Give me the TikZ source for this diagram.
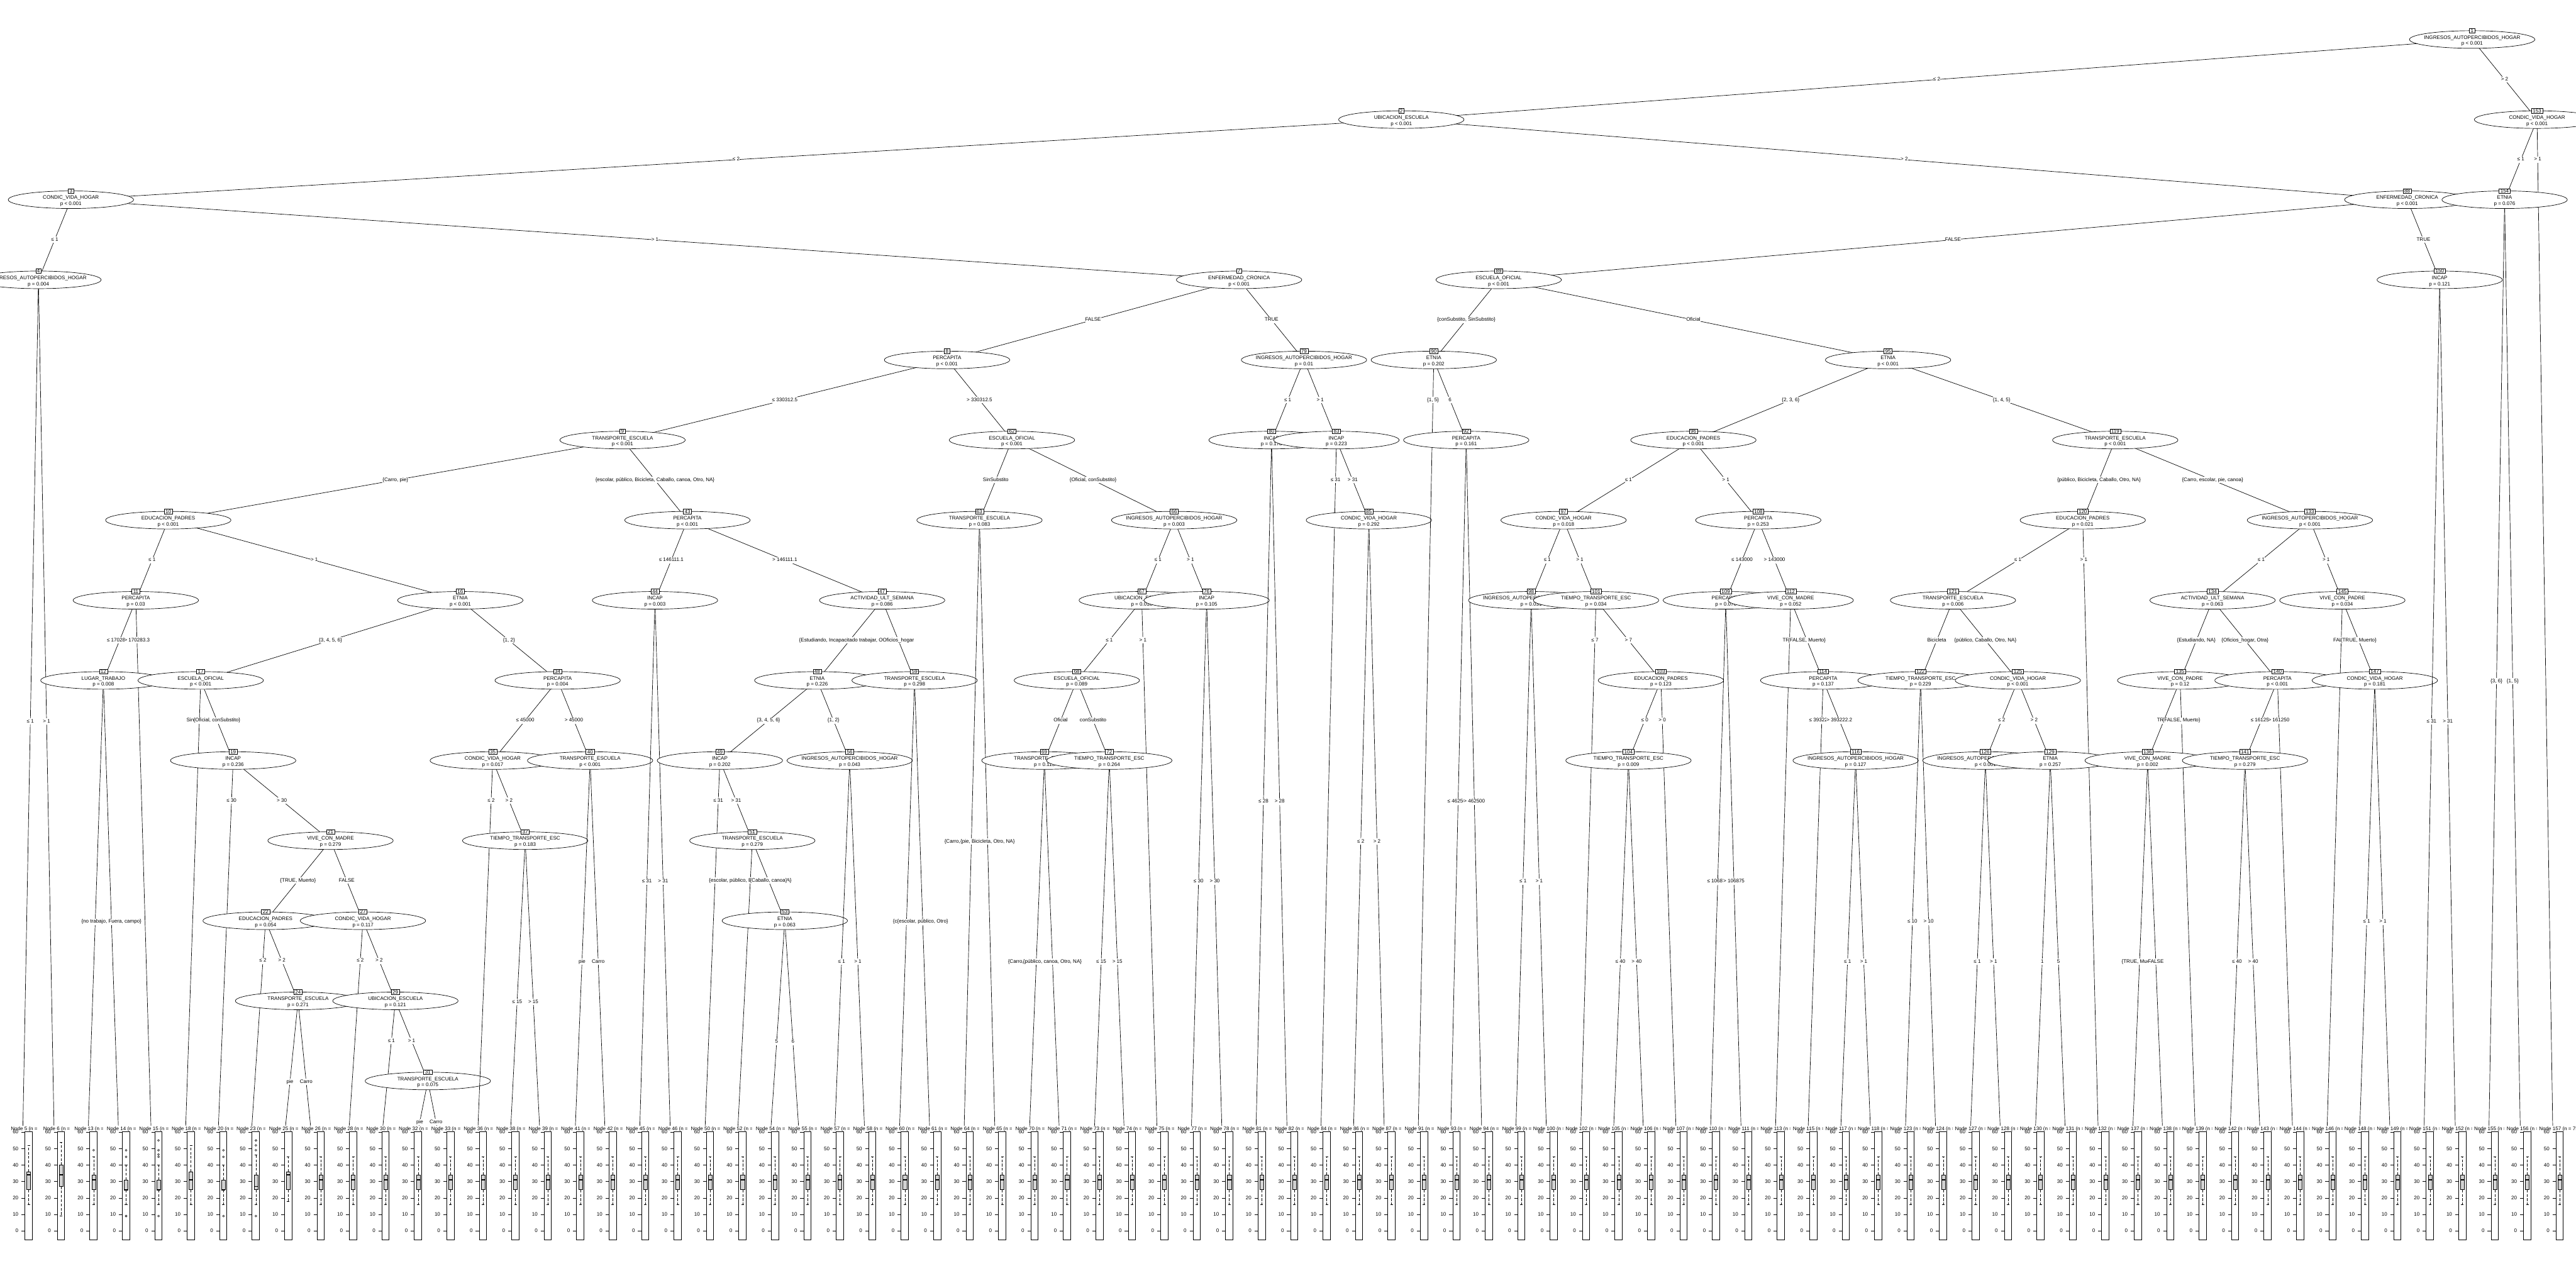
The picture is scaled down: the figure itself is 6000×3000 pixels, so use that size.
\documentclass[tikz,border=0pt]{standalone}
\usepackage{fontspec}
\setmainfont{Liberation Sans}
\usetikzlibrary{shapes.geometric,calc}
\newcommand\nf{\fontsize{11.8}{14}\selectfont}
\begin{document}
\begin{tikzpicture}[x=1pt,y=-1pt,
  every node/.style={font=\nf},
  declare function={Yv(\v)=2888-3.833*(\v+5.5);},
  eline/.style={line width=1pt},
  inn/.style={ellipse, draw, fill=white, line width=1pt, minimum width=292pt, minimum height=41pt, inner sep=0pt},
  idb/.style={draw, fill=white, line width=0.9pt, inner xsep=3pt, inner ysep=1.2pt, text height=8.5pt, text depth=0pt},
  elab/.style={fill=white, inner xsep=0pt, inner ysep=1.3pt, text height=9pt, text depth=3pt},
  txt/.style={inner sep=0pt, anchor=base},
  tk/.style={line width=0.9pt},
  wh/.style={line width=0.9pt, dash pattern=on 6pt off 4pt},
  wcap/.style={line width=0.9pt},
  bx/.style={draw, fill={rgb,255:red,211;green,211;blue,211}, line width=0.9pt},
  mdn/.style={line width=2.4pt},
  outl/.style={line width=0.8pt},
  pframe/.style={line width=1pt}]
\fill[white] (0,0) rectangle (6000,3000);
\useasboundingbox (0,0) rectangle (6000,3000);
% ---------- coordinates ----------
\newcommand\CI[3]{\coordinate (c#1) at ({14+75.58*#2},{92+186.6*#3});}
\newcommand\CT[2]{\coordinate (c#1) at ({14+75.58*(#2-0.5)},2709);}
\CI{1}{76}{0}\CI{2}{43}{1}\CI{3}{2}{2}\CI{4}{1}{3}\CI{7}{38}{3}\CI{8}{29}{4}
\CI{9}{19}{5}\CI{10}{5}{6}\CI{11}{4}{7}\CI{12}{3}{8}\CI{16}{14}{7}\CI{17}{6}{8}
\CI{19}{7}{9}\CI{21}{10}{10}\CI{22}{8}{11}\CI{24}{9}{12}\CI{27}{11}{11}\CI{29}{12}{12}
\CI{31}{13}{13}\CI{34}{17}{8}\CI{35}{15}{9}\CI{37}{16}{10}\CI{40}{18}{9}\CI{43}{21}{6}
\CI{44}{20}{7}\CI{47}{27}{7}\CI{48}{25}{8}\CI{49}{22}{9}\CI{51}{23}{10}\CI{53}{24}{11}
\CI{56}{26}{9}\CI{59}{28}{8}\CI{62}{31}{5}\CI{63}{30}{6}\CI{66}{36}{6}\CI{67}{35}{7}
\CI{68}{33}{8}\CI{69}{32}{9}\CI{72}{34}{9}\CI{76}{37}{7}\CI{79}{40}{4}\CI{80}{39}{5}
\CI{83}{41}{5}\CI{85}{42}{6}\CI{88}{74}{2}\CI{89}{46}{3}\CI{90}{44}{4}\CI{92}{45}{5}
\CI{95}{58}{4}\CI{96}{52}{5}\CI{97}{48}{6}\CI{98}{47}{7}\CI{101}{49}{7}\CI{103}{51}{8}
\CI{104}{50}{9}\CI{108}{54}{6}\CI{109}{53}{7}\CI{112}{55}{7}\CI{114}{56}{8}\CI{116}{57}{9}
\CI{119}{65}{5}\CI{120}{64}{6}\CI{121}{60}{7}\CI{122}{59}{8}\CI{125}{62}{8}\CI{126}{61}{9}
\CI{129}{63}{9}\CI{133}{71}{6}\CI{134}{68}{7}\CI{135}{67}{8}\CI{136}{66}{9}\CI{140}{70}{8}
\CI{141}{69}{9}\CI{145}{72}{7}\CI{147}{73}{8}\CI{150}{75}{3}\CI{153}{78}{1}\CI{154}{77}{2}
\CT{5}{1}\CT{6}{2}\CT{13}{3}\CT{14}{4}\CT{15}{5}\CT{18}{6}\CT{20}{7}\CT{23}{8}\CT{25}{9}
\CT{26}{10}\CT{28}{11}\CT{30}{12}\CT{32}{13}\CT{33}{14}\CT{36}{15}\CT{38}{16}\CT{39}{17}
\CT{41}{18}\CT{42}{19}\CT{45}{20}\CT{46}{21}\CT{50}{22}\CT{52}{23}\CT{54}{24}\CT{55}{25}
\CT{57}{26}\CT{58}{27}\CT{60}{28}\CT{61}{29}\CT{64}{30}\CT{65}{31}\CT{70}{32}\CT{71}{33}
\CT{73}{34}\CT{74}{35}\CT{75}{36}\CT{77}{37}\CT{78}{38}\CT{81}{39}\CT{82}{40}\CT{84}{41}
\CT{86}{42}\CT{87}{43}\CT{91}{44}\CT{93}{45}\CT{94}{46}\CT{99}{47}\CT{100}{48}\CT{102}{49}
\CT{105}{50}\CT{106}{51}\CT{107}{52}\CT{110}{53}\CT{111}{54}\CT{113}{55}\CT{115}{56}
\CT{117}{57}\CT{118}{58}\CT{123}{59}\CT{124}{60}\CT{127}{61}\CT{128}{62}\CT{130}{63}
\CT{131}{64}\CT{132}{65}\CT{137}{66}\CT{138}{67}\CT{139}{68}\CT{142}{69}\CT{143}{70}
\CT{144}{71}\CT{146}{72}\CT{148}{73}\CT{149}{74}\CT{151}{75}\CT{152}{76}\CT{155}{77}
\CT{156}{78}\CT{157}{79}
% ---------- inner node ----------
\newcommand\NODE[9]{%
  \draw[eline] (c#1) -- (c#4);
  \draw[eline] (c#1) -- (c#5);
  \node[inn] (n#1) at (c#1) {};
  \node[txt] (v#1) at ([yshift=1pt]c#1) {#2};
  \node[txt] (p#1) at ([yshift=-13.3pt]c#1) {#3};
  \node[idb] (i#1) at ([yshift=20.5pt]c#1) {#1};
  \path (c#1) -- (c#4) node[elab, pos=#6] (la#1) {#8};
  \path (c#1) -- (c#5) node[elab, pos=#7] (lb#1) {#9};
}
% ---------- terminal panel ----------
\newcommand\TP[9]{%
  \pgfmathsetmacro\PX{14+75.58*(#2-1)}%
  \fill[white] (\PX,2622) rectangle ({\PX+75.58},2888);
  \node[inner sep=0pt] (t#1) at ({\PX+52.5},2629.5) {Node #1 (n = #3)};
  \foreach \v in {0,10,...,60}{%
    \draw[tk] ({\PX+36},{Yv(\v)}) -- ({\PX+44},{Yv(\v)});
    \node[anchor=east,inner sep=0pt] at ({\PX+29},{Yv(\v)}) {\v};}
  \draw[wh] ({\PX+52.95},{Yv(#6)}) -- ({\PX+52.95},{Yv(#8)});
  \draw[wh] ({\PX+52.95},{Yv(#4)}) -- ({\PX+52.95},{Yv(#7)});
  \draw[wcap] ({\PX+50},{Yv(#8)}) -- ({\PX+55.9},{Yv(#8)});
  \draw[wcap] ({\PX+50},{Yv(#7)}) -- ({\PX+55.9},{Yv(#7)});
  \draw[bx] ({\PX+48.5},{Yv(#6)}) rectangle ({\PX+57.4},{Yv(#4)});
  \draw[mdn] ({\PX+48.5},{Yv(#5)}) -- ({\PX+57.4},{Yv(#5)});
  \if\relax\detokenize{#9}\relax\else
    \foreach \o in {#9}{\draw[outl] ({\PX+52.95},{Yv(\o)}) circle[radius=2.2pt];}%
  \fi
  \draw[pframe] ({\PX+44},2635) rectangle ({\PX+61},2888);
}
\newcommand\DT[3]{\TP{#1}{#2}{#3}{25}{31}{34}{16}{45}{}}
% ---------- drawing in plot order ----------
\NODE{1}{INGRESOS\_AUTOPERCIBIDOS\_HOGAR}{p < 0.001}{2}{153}{0.5}{0.5}{≤ 2}{> 2}
\NODE{2}{UBICACION\_ESCUELA}{p < 0.001}{3}{88}{0.5}{0.5}{≤ 2}{> 2}
\NODE{3}{CONDIC\_VIDA\_HOGAR}{p < 0.001}{4}{7}{0.5}{0.5}{≤ 1}{> 1}
\NODE{4}{INGRESOS\_AUTOPERCIBIDOS\_HOGAR}{p = 0.004}{5}{6}{0.5}{0.5}{≤ 1}{> 1}
\TP{5}{1}{24}{25}{34}{36}{16}{52}{}
\TP{6}{2}{91}{27}{34}{40}{9}{54}{}
\NODE{7}{ENFERMEDAD\_CRONICA}{p < 0.001}{8}{79}{0.5}{0.5}{FALSE}{TRUE}
\NODE{8}{PERCAPITA}{p < 0.001}{9}{62}{0.5}{0.5}{≤ 330312.5}{> 330312.5}
\NODE{9}{TRANSPORTE\_ESCUELA}{p < 0.001}{10}{43}{0.5}{0.5}{\{Carro, pie\}}{\{escolar, público, Bicicleta, Caballo, canoa, Otro, NA\}}
\NODE{10}{EDUCACION\_PADRES}{p < 0.001}{11}{16}{0.5}{0.5}{≤ 1}{> 1}
\NODE{11}{PERCAPITA}{p = 0.03}{12}{15}{0.5}{0.0712}{≤ 170283.3}{> 170283.3}
\NODE{12}{LUGAR\_TRABAJO}{p = 0.008}{13}{14}{0.5}{0.5}{casa}{\{no trabajo, Fuera, campo\}}
\TP{13}{3}{52}{25}{31}{34}{16}{45}{49}
\TP{14}{4}{64}{25}{25}{31}{16}{40}{49,45,9}
\TP{15}{5}{88}{25}{25}{31}{16}{40}{55,49,46.4,45,9}
\NODE{16}{ETNIA}{p < 0.001}{17}{34}{0.5}{0.5}{\{3, 4, 5, 6\}}{\{1, 2\}}
\NODE{17}{ESCUELA\_OFICIAL}{p < 0.001}{18}{19}{0.0830}{0.5}{SinSubstito}{\{Oficial, conSubstito\}}
\TP{18}{6}{45}{25}{31}{36}{16}{52}{}
\NODE{19}{INCAP}{p = 0.236}{20}{21}{0.0995}{0.5}{≤ 30}{> 30}
\TP{20}{7}{77}{25}{25}{31}{16}{40}{49,45,9}
\NODE{21}{VIVE\_CON\_MADRE}{p = 0.279}{22}{27}{0.5}{0.5}{\{TRUE, Muerto\}}{FALSE}
\NODE{22}{EDUCACION\_PADRES}{p = 0.054}{23}{24}{0.1653}{0.5}{≤ 2}{> 2}
\TP{23}{8}{36}{25}{27}{34}{16}{46}{55,52,49,9}
\NODE{24}{TRANSPORTE\_ESCUELA}{p = 0.271}{25}{26}{0.5}{0.5}{pie}{Carro}
\TP{25}{9}{21}{25}{34}{36}{18}{45}{}
\DT{26}{10}{30}
\NODE{27}{CONDIC\_VIDA\_HOGAR}{p = 0.117}{28}{29}{0.1653}{0.5}{≤ 2}{> 2}
\DT{28}{11}{40}
\NODE{29}{UBICACION\_ESCUELA}{p = 0.121}{30}{31}{0.2470}{0.5}{≤ 1}{> 1}
\DT{30}{12}{33}
\NODE{31}{TRANSPORTE\_ESCUELA}{p = 0.075}{32}{33}{0.5}{0.5}{pie}{Carro}
\DT{32}{13}{25}\DT{33}{14}{20}
\NODE{34}{PERCAPITA}{p = 0.004}{35}{40}{0.5}{0.5}{≤ 45000}{> 45000}
\NODE{35}{CONDIC\_VIDA\_HOGAR}{p = 0.017}{36}{37}{0.0995}{0.5}{≤ 2}{> 2}
\DT{36}{15}{30}
\NODE{37}{TIEMPO\_TRANSPORTE\_ESC}{p = 0.183}{38}{39}{0.5}{0.5}{≤ 15}{> 15}
\DT{38}{16}{30}\DT{39}{17}{30}
\NODE{40}{TRANSPORTE\_ESCUELA}{p < 0.001}{41}{42}{0.5}{0.5}{pie}{Carro}
\DT{41}{18}{30}\DT{42}{19}{30}
\NODE{43}{PERCAPITA}{p < 0.001}{44}{47}{0.5}{0.5}{≤ 146111.1}{> 146111.1}
\NODE{44}{INCAP}{p = 0.003}{45}{46}{0.5}{0.5}{≤ 31}{> 31}
\DT{45}{20}{30}\DT{46}{21}{30}
\NODE{47}{ACTIVIDAD\_ULT\_SEMANA}{p = 0.086}{48}{59}{0.5}{0.5}{\{Estudiando, Incapacitado trabajar, Otra, NA\}}{Oficios\_hogar}
\NODE{48}{ETNIA}{p = 0.226}{49}{56}{0.5}{0.5}{\{3, 4, 5, 6\}}{\{1, 2\}}
\NODE{49}{INCAP}{p = 0.202}{50}{51}{0.0995}{0.5}{≤ 31}{> 31}
\DT{50}{22}{30}
\NODE{51}{TRANSPORTE\_ESCUELA}{p = 0.279}{52}{53}{0.1242}{0.5}{\{escolar, público, Bicicleta, Otro, NA\}}{\{Caballo, canoa\}}
\DT{52}{23}{30}
\NODE{53}{ETNIA}{p = 0.063}{54}{55}{0.5}{0.5}{5}{6}
\DT{54}{24}{30}\DT{55}{25}{30}
\NODE{56}{INGRESOS\_AUTOPERCIBIDOS\_HOGAR}{p = 0.043}{57}{58}{0.5}{0.5}{≤ 1}{> 1}
\DT{57}{26}{30}\DT{58}{27}{30}
\NODE{59}{TRANSPORTE\_ESCUELA}{p = 0.298}{60}{61}{0.5}{0.5}{\{canoa, NA\}}{\{escolar, público, Otro\}}
\DT{60}{28}{30}\DT{61}{29}{30}
\NODE{62}{ESCUELA\_OFICIAL}{p < 0.001}{63}{66}{0.5}{0.5}{SinSubstito}{\{Oficial, conSubstito\}}
\NODE{63}{TRANSPORTE\_ESCUELA}{p = 0.083}{64}{65}{0.5}{0.5}{\{Carro, escolar, público\}}{\{pie, Bicicleta, Otro, NA\}}
\DT{64}{30}{30}\DT{65}{31}{30}
\NODE{66}{INGRESOS\_AUTOPERCIBIDOS\_HOGAR}{p = 0.003}{67}{76}{0.5}{0.5}{≤ 1}{> 1}
\NODE{67}{UBICACION\_ESCUELA}{p = 0.018}{68}{75}{0.5}{0.0712}{≤ 1}{> 1}
\NODE{68}{ESCUELA\_OFICIAL}{p = 0.089}{69}{72}{0.5}{0.5}{Oficial}{conSubstito}
\NODE{69}{TRANSPORTE\_ESCUELA}{p = 0.113}{70}{71}{0.5}{0.5}{\{Carro, escolar, Bicicleta\}}{\{público, canoa, Otro, NA\}}
\DT{70}{32}{30}\DT{71}{33}{30}
\NODE{72}{TIEMPO\_TRANSPORTE\_ESC}{p = 0.264}{73}{74}{0.5}{0.5}{≤ 15}{> 15}
\DT{73}{34}{30}\DT{74}{35}{30}\DT{75}{36}{30}
\NODE{76}{INCAP}{p = 0.105}{77}{78}{0.5}{0.5}{≤ 30}{> 30}
\DT{77}{37}{30}\DT{78}{38}{30}
\NODE{79}{INGRESOS\_AUTOPERCIBIDOS\_HOGAR}{p = 0.01}{80}{83}{0.5}{0.5}{≤ 1}{> 1}
\NODE{80}{INCAP}{p = 0.178}{81}{82}{0.5}{0.5}{≤ 28}{> 28}
\DT{81}{39}{30}\DT{82}{40}{30}
\NODE{83}{INCAP}{p = 0.223}{84}{85}{0.0554}{0.5}{≤ 31}{> 31}
\DT{84}{41}{30}
\NODE{85}{CONDIC\_VIDA\_HOGAR}{p = 0.292}{86}{87}{0.5}{0.5}{≤ 2}{> 2}
\DT{86}{42}{30}\DT{87}{43}{30}
\NODE{88}{ENFERMEDAD\_CRONICA}{p < 0.001}{89}{150}{0.5}{0.5}{FALSE}{TRUE}
\NODE{89}{ESCUELA\_OFICIAL}{p < 0.001}{90}{95}{0.5}{0.5}{\{conSubstito, SinSubstito\}}{Oficial}
\NODE{90}{ETNIA}{p = 0.202}{91}{92}{0.0499}{0.5}{\{1, 5\}}{6}
\DT{91}{44}{30}
\NODE{92}{PERCAPITA}{p = 0.161}{93}{94}{0.5}{0.5}{≤ 462500}{> 462500}
\DT{93}{45}{30}\DT{94}{46}{30}
\NODE{95}{ETNIA}{p < 0.001}{96}{119}{0.5}{0.5}{\{2, 3, 6\}}{\{1, 4, 5\}}
\NODE{96}{EDUCACION\_PADRES}{p < 0.001}{97}{108}{0.5}{0.5}{≤ 1}{> 1}
\NODE{97}{CONDIC\_VIDA\_HOGAR}{p = 0.018}{98}{101}{0.5}{0.5}{≤ 1}{> 1}
\NODE{98}{INGRESOS\_AUTOPERCIBIDOS\_HOGAR}{p = 0.031}{99}{100}{0.5}{0.5}{≤ 1}{> 1}
\DT{99}{47}{30}\DT{100}{48}{30}
\NODE{101}{TIEMPO\_TRANSPORTE\_ESC}{p = 0.034}{102}{103}{0.0712}{0.5}{≤ 7}{> 7}
\DT{102}{49}{30}
\NODE{103}{EDUCACION\_PADRES}{p = 0.123}{104}{107}{0.5}{0.0830}{≤ 0}{> 0}
\NODE{104}{TIEMPO\_TRANSPORTE\_ESC}{p = 0.009}{105}{106}{0.5}{0.5}{≤ 40}{> 40}
\DT{105}{50}{30}\DT{106}{51}{30}\DT{107}{52}{30}
\NODE{108}{PERCAPITA}{p = 0.253}{109}{112}{0.5}{0.5}{≤ 143000}{> 143000}
\NODE{109}{PERCAPITA}{p = 0.076}{110}{111}{0.5}{0.5}{≤ 106875}{> 106875}
\DT{110}{53}{30}\DT{111}{54}{30}
\NODE{112}{VIVE\_CON\_MADRE}{p = 0.052}{113}{114}{0.0712}{0.5}{TRUE}{\{FALSE, Muerto\}}
\DT{113}{55}{30}
\NODE{114}{PERCAPITA}{p = 0.137}{115}{116}{0.0830}{0.5}{≤ 393222.2}{> 393222.2}
\DT{115}{56}{30}
\NODE{116}{INGRESOS\_AUTOPERCIBIDOS\_HOGAR}{p = 0.127}{117}{118}{0.5}{0.5}{≤ 1}{> 1}
\DT{117}{57}{30}\DT{118}{58}{30}
\NODE{119}{TRANSPORTE\_ESCUELA}{p < 0.001}{120}{133}{0.5}{0.5}{\{público, Bicicleta, Caballo, Otro, NA\}}{\{Carro, escolar, pie, canoa\}}
\NODE{120}{EDUCACION\_PADRES}{p = 0.021}{121}{132}{0.5}{0.0623}{≤ 1}{> 1}
\NODE{121}{TRANSPORTE\_ESCUELA}{p = 0.006}{122}{125}{0.5}{0.5}{Bicicleta}{\{público, Caballo, Otro, NA\}}
\NODE{122}{TIEMPO\_TRANSPORTE\_ESC}{p = 0.229}{123}{124}{0.5}{0.5}{≤ 10}{> 10}
\DT{123}{59}{30}\DT{124}{60}{30}
\NODE{125}{CONDIC\_VIDA\_HOGAR}{p < 0.001}{126}{129}{0.5}{0.5}{≤ 2}{> 2}
\NODE{126}{INGRESOS\_AUTOPERCIBIDOS\_HOGAR}{p < 0.001}{127}{128}{0.5}{0.5}{≤ 1}{> 1}
\DT{127}{61}{30}\DT{128}{62}{30}
\NODE{129}{ETNIA}{p = 0.257}{130}{131}{0.5}{0.5}{1}{5}
\DT{130}{63}{30}\DT{131}{64}{30}\DT{132}{65}{30}
\NODE{133}{INGRESOS\_AUTOPERCIBIDOS\_HOGAR}{p < 0.001}{134}{145}{0.5}{0.5}{≤ 1}{> 1}
\NODE{134}{ACTIVIDAD\_ULT\_SEMANA}{p = 0.063}{135}{140}{0.5}{0.5}{\{Estudiando, NA\}}{\{Oficios\_hogar, Otra\}}
\NODE{135}{VIVE\_CON\_PADRE}{p = 0.12}{136}{139}{0.5}{0.0830}{TRUE}{\{FALSE, Muerto\}}
\NODE{136}{VIVE\_CON\_MADRE}{p = 0.002}{137}{138}{0.5}{0.5}{\{TRUE, Muerto\}}{FALSE}
\DT{137}{66}{30}\DT{138}{67}{30}\DT{139}{68}{30}
\NODE{140}{PERCAPITA}{p < 0.001}{141}{144}{0.5}{0.0830}{≤ 161250}{> 161250}
\NODE{141}{TIEMPO\_TRANSPORTE\_ESC}{p = 0.279}{142}{143}{0.5}{0.5}{≤ 40}{> 40}
\DT{142}{69}{30}\DT{143}{70}{30}\DT{144}{71}{30}
\NODE{145}{VIVE\_CON\_PADRE}{p = 0.034}{146}{147}{0.0712}{0.5}{FALSE}{\{TRUE, Muerto\}}
\DT{146}{72}{30}
\NODE{147}{CONDIC\_VIDA\_HOGAR}{p = 0.181}{148}{149}{0.5}{0.5}{≤ 1}{> 1}
\DT{148}{73}{30}\DT{149}{74}{30}
\NODE{150}{INCAP}{p = 0.121}{151}{152}{0.5}{0.5}{≤ 31}{> 31}
\DT{151}{75}{30}\DT{152}{76}{30}
\NODE{153}{CONDIC\_VIDA\_HOGAR}{p < 0.001}{154}{157}{0.5}{0.0384}{≤ 1}{> 1}
\NODE{154}{ETNIA}{p = 0.076}{155}{156}{0.5}{0.5}{\{3, 6\}}{\{1, 5\}}
\DT{155}{77}{30}\DT{156}{78}{30}\DT{157}{79}{75}
\end{tikzpicture}
\end{document}
